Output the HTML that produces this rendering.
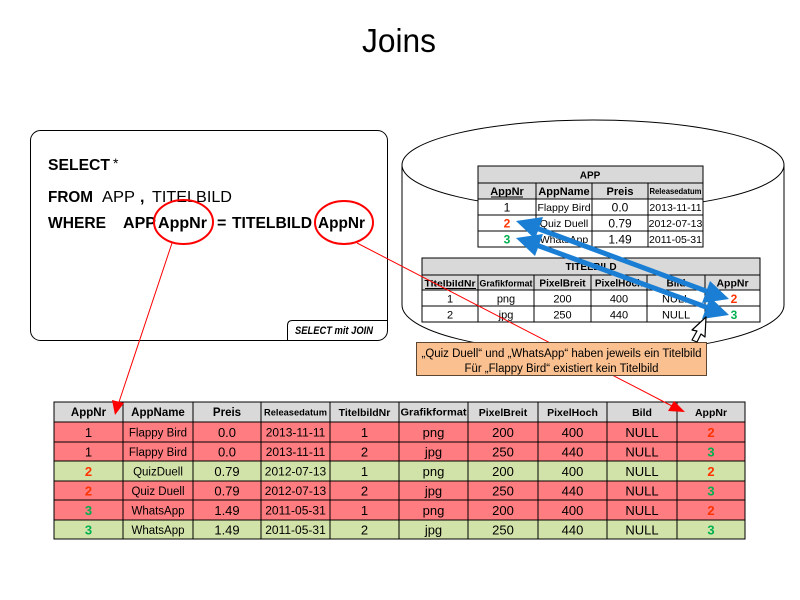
<!DOCTYPE html>
<html><head><meta charset="utf-8"><style>
html,body{margin:0;padding:0;background:#fff;}
svg{display:block;}
text{font-family:"Liberation Sans",Arial,sans-serif;}
</style></head><body>
<svg width="800" height="600" viewBox="0 0 800 600" xmlns="http://www.w3.org/2000/svg">
<rect width="800" height="600" fill="#fff"/>
<!-- Title -->
<text x="399" y="52" font-size="33" text-anchor="middle" textLength="74" lengthAdjust="spacingAndGlyphs" fill="#000">Joins</text>

<!-- SQL box -->
<rect x="30.5" y="130.5" width="357" height="210" rx="10" ry="10" fill="#fff" stroke="#000" stroke-width="1"/>
<path d="M287.5,340.5 V325.5 Q287.5,320.5 292.5,320.5 H387.5" fill="none" stroke="#000" stroke-width="1"/>
<text x="295" y="334" font-size="11" font-weight="bold" font-style="italic" textLength="78" lengthAdjust="spacingAndGlyphs">SELECT mit JOIN</text>

<g font-size="16" font-weight="bold" fill="#000">
<text x="48" y="170" textLength="62" lengthAdjust="spacingAndGlyphs">SELECT</text>
<text x="113" y="168" font-size="14" font-weight="normal">*</text>
<text x="48" y="202" textLength="45" lengthAdjust="spacingAndGlyphs">FROM</text>
<text x="102" y="202" font-weight="normal" textLength="33" lengthAdjust="spacingAndGlyphs">APP</text>
<text x="140" y="202">,</text>
<text x="152" y="202" font-weight="normal" textLength="80" lengthAdjust="spacingAndGlyphs">TITELBILD</text>
<text x="48" y="228" textLength="58" lengthAdjust="spacingAndGlyphs">WHERE</text>
<text x="123" y="228" textLength="33" lengthAdjust="spacingAndGlyphs">APP</text>
<text x="158" y="228" textLength="49" lengthAdjust="spacingAndGlyphs">AppNr</text>
<text x="217" y="228">=</text>
<text x="232" y="228" textLength="80" lengthAdjust="spacingAndGlyphs">TITELBILD</text>
<text x="318" y="228" textLength="47" lengthAdjust="spacingAndGlyphs">AppNr</text>
</g>
<ellipse cx="183.5" cy="222" rx="29.5" ry="22" fill="none" stroke="#ff0000" stroke-width="2"/>
<ellipse cx="344" cy="222.5" rx="29" ry="21.5" fill="none" stroke="#ff0000" stroke-width="2"/>

<!-- Cylinder -->
<path d="M402,165 V305 A191,48 0 0 0 784,305 V165" fill="#fff" stroke="#000" stroke-width="1"/>
<ellipse cx="593" cy="165" rx="191" ry="45" fill="#fff" stroke="#000" stroke-width="1"/>

<!-- APP table -->
<g stroke="#000" stroke-width="1">
<rect x="478" y="166" width="225" height="33" fill="#d9d9d9"/>
<rect x="478" y="199" width="225" height="48" fill="#fff"/>
<line x1="478" y1="183" x2="703" y2="183"/>
<line x1="478" y1="215" x2="703" y2="215"/>
<line x1="478" y1="231" x2="703" y2="231"/>
<line x1="536" y1="183" x2="536" y2="247"/>
<line x1="592" y1="183" x2="592" y2="247"/>
<line x1="648" y1="183" x2="648" y2="247"/>
</g>
<g text-anchor="middle" fill="#000">
<text x="590" y="178.5" font-size="10" font-weight="bold">APP</text>
<text x="507" y="195" font-size="11" font-weight="bold">AppNr</text>
<line x1="491" y1="197" x2="523" y2="197" stroke="#000" stroke-width="1"/>
<text x="564" y="195" font-size="11" font-weight="bold">AppName</text>
<text x="620" y="195" font-size="11" font-weight="bold">Preis</text>
<text x="675.5" y="194" font-size="8" font-weight="bold" textLength="52" lengthAdjust="spacingAndGlyphs">Releasedatum</text>
<text x="507" y="211.5" font-size="12">1</text>
<text x="564" y="211" font-size="10.5">Flappy Bird</text>
<text x="620" y="211.5" font-size="12">0.0</text>
<text x="675.5" y="211" font-size="10.5">2013-11-11</text>
<text x="507" y="227.5" font-size="12" font-weight="bold" fill="#ff3300">2</text>
<text x="564" y="227" font-size="10.5">Quiz Duell</text>
<text x="620" y="227.5" font-size="12">0.79</text>
<text x="675.5" y="227" font-size="10.5">2012-07-13</text>
<text x="507" y="243.5" font-size="12" font-weight="bold" fill="#00b050">3</text>
<text x="564" y="243" font-size="10.5">WhatsApp</text>
<text x="620" y="243.5" font-size="12">1.49</text>
<text x="675.5" y="243" font-size="10.5">2011-05-31</text>
</g>

<!-- TITELBILD table -->
<g stroke="#000" stroke-width="1">
<rect x="422" y="258" width="338" height="32" fill="#d9d9d9"/>
<rect x="422" y="290" width="338" height="32" fill="#fff"/>
<line x1="422" y1="275" x2="760" y2="275"/>
<line x1="422" y1="306" x2="760" y2="306"/>
<line x1="478" y1="275" x2="478" y2="322"/>
<line x1="534" y1="275" x2="534" y2="322"/>
<line x1="591" y1="275" x2="591" y2="322"/>
<line x1="647" y1="275" x2="647" y2="322"/>
<line x1="705" y1="275" x2="705" y2="322"/>
</g>
<g text-anchor="middle" fill="#000">
<text x="591" y="270" font-size="10" font-weight="bold">TITELBILD</text>
<text x="450" y="286.5" font-size="9.5" font-weight="bold" textLength="51" lengthAdjust="spacingAndGlyphs">TitelbildNr</text>
<line x1="425" y1="288.5" x2="476" y2="288.5" stroke="#000" stroke-width="1"/>
<text x="506" y="286.5" font-size="9" font-weight="bold" textLength="53" lengthAdjust="spacingAndGlyphs">Grafikformat</text>
<text x="562.5" y="286.5" font-size="10" font-weight="bold">PixelBreit</text>
<text x="619" y="286.5" font-size="10" font-weight="bold">PixelHoch</text>
<text x="676" y="286.5" font-size="10" font-weight="bold">Bild</text>
<text x="732.5" y="286.5" font-size="10.5" font-weight="bold">AppNr</text>
<text x="450" y="302.5" font-size="11">1</text>
<text x="506" y="302.5" font-size="11">png</text>
<text x="562.5" y="302.5" font-size="11">200</text>
<text x="619" y="302.5" font-size="11">400</text>
<text x="676" y="302.5" font-size="11">NULL</text>
<text x="734" y="303" font-size="12" font-weight="bold" fill="#ff3300">2</text>
<text x="450" y="318.5" font-size="11">2</text>
<text x="506" y="318.5" font-size="11">jpg</text>
<text x="562.5" y="318.5" font-size="11">250</text>
<text x="619" y="318.5" font-size="11">440</text>
<text x="676" y="318.5" font-size="11">NULL</text>
<text x="734" y="319" font-size="12" font-weight="bold" fill="#00b050">3</text>
</g>

<!-- Bottom result table -->
<g stroke="#000" stroke-width="1">
<rect x="54" y="402" width="691" height="20" fill="#d9d9d9"/>
<rect x="54" y="422" width="691" height="20" fill="#ff7c80"/>
<rect x="54" y="442" width="691" height="19" fill="#ff7c80"/>
<rect x="54" y="461" width="691" height="20" fill="#d2e3a9"/>
<rect x="54" y="481" width="691" height="19" fill="#ff7c80"/>
<rect x="54" y="500" width="691" height="20" fill="#ff7c80"/>
<rect x="54" y="520" width="691" height="19" fill="#d2e3a9"/>
<line x1="123" y1="402" x2="123" y2="539"/>
<line x1="193" y1="402" x2="193" y2="539"/>
<line x1="261" y1="402" x2="261" y2="539"/>
<line x1="330" y1="402" x2="330" y2="539"/>
<line x1="399" y1="402" x2="399" y2="539"/>
<line x1="468" y1="402" x2="468" y2="539"/>
<line x1="538" y1="402" x2="538" y2="539"/>
<line x1="607" y1="402" x2="607" y2="539"/>
<line x1="677" y1="402" x2="677" y2="539"/>
</g>
<g text-anchor="middle" fill="#000">
<g font-size="11.5" font-weight="bold">
<text x="88.5" y="416">AppNr</text>
<text x="158" y="416">AppName</text>
<text x="227" y="416">Preis</text>
<text x="295.5" y="415.5" font-size="9.5" textLength="63" lengthAdjust="spacingAndGlyphs">Releasedatum</text>
<text x="364.5" y="416" font-size="10.5">TitelbildNr</text>
<text x="433.5" y="415.5" font-size="10" textLength="66" lengthAdjust="spacingAndGlyphs">Grafikformat</text>
<text x="503" y="416" font-size="10.5">PixelBreit</text>
<text x="572.5" y="416" font-size="10.5">PixelHoch</text>
<text x="642" y="416" font-size="10.5">Bild</text>
<text x="711" y="416" font-size="10.5">AppNr</text>
</g>
<g font-size="13">
<text x="88.5" y="437">1</text><text x="158" y="436.5" font-size="11.5">Flappy Bird</text><text x="227" y="437">0.0</text><text x="295.5" y="436.5" font-size="12">2013-11-11</text><text x="364.5" y="437">1</text><text x="433.5" y="437">png</text><text x="503" y="437">200</text><text x="572.5" y="437">400</text><text x="642" y="437">NULL</text><text x="711" y="437" font-weight="bold" fill="#ff3300">2</text>
<text x="88.5" y="456.5">1</text><text x="158" y="456" font-size="11.5">Flappy Bird</text><text x="227" y="456.5">0.0</text><text x="295.5" y="456" font-size="12">2013-11-11</text><text x="364.5" y="456.5">2</text><text x="433.5" y="456.5">jpg</text><text x="503" y="456.5">250</text><text x="572.5" y="456.5">440</text><text x="642" y="456.5">NULL</text><text x="711" y="456.5" font-weight="bold" fill="#00b050">3</text>
<text x="88.5" y="476" font-weight="bold" fill="#ff3300">2</text><text x="158" y="475.5" font-size="11.5">QuizDuell</text><text x="227" y="476">0.79</text><text x="295.5" y="475.5" font-size="12">2012-07-13</text><text x="364.5" y="476">1</text><text x="433.5" y="476">png</text><text x="503" y="476">200</text><text x="572.5" y="476">400</text><text x="642" y="476">NULL</text><text x="711" y="476" font-weight="bold" fill="#ff3300">2</text>
<text x="88.5" y="495.5" font-weight="bold" fill="#ff3300">2</text><text x="158" y="495" font-size="11.5">Quiz Duell</text><text x="227" y="495.5">0.79</text><text x="295.5" y="495" font-size="12">2012-07-13</text><text x="364.5" y="495.5">2</text><text x="433.5" y="495.5">jpg</text><text x="503" y="495.5">250</text><text x="572.5" y="495.5">440</text><text x="642" y="495.5">NULL</text><text x="711" y="495.5" font-weight="bold" fill="#00b050">3</text>
<text x="88.5" y="515" font-weight="bold" fill="#00b050">3</text><text x="158" y="514.5" font-size="11.5">WhatsApp</text><text x="227" y="515">1.49</text><text x="295.5" y="514.5" font-size="12">2011-05-31</text><text x="364.5" y="515">1</text><text x="433.5" y="515">png</text><text x="503" y="515">200</text><text x="572.5" y="515">400</text><text x="642" y="515">NULL</text><text x="711" y="515" font-weight="bold" fill="#ff3300">2</text>
<text x="88.5" y="534.5" font-weight="bold" fill="#00b050">3</text><text x="158" y="534" font-size="11.5">WhatsApp</text><text x="227" y="534.5">1.49</text><text x="295.5" y="534" font-size="12">2011-05-31</text><text x="364.5" y="534.5">2</text><text x="433.5" y="534.5">jpg</text><text x="503" y="534.5">250</text><text x="572.5" y="534.5">440</text><text x="642" y="534.5">NULL</text><text x="711" y="534.5" font-weight="bold" fill="#00b050">3</text>
</g>
</g>

<!-- Red connector lines -->
<line x1="172" y1="243" x2="119" y2="402" stroke="#ff0000" stroke-width="1"/>
<polygon points="115,415 112,400 124,403" fill="#ff0000"/>
<line x1="357" y1="243" x2="672" y2="406" stroke="#ff0000" stroke-width="1"/>
<polygon points="685,412 668,411 674,401" fill="#ff0000"/>

<!-- Blue double arrows -->
<g fill="#1a7fd4" stroke="#1a7fd4">
<line x1="535" y1="227.5" x2="710" y2="292.5" stroke-width="5"/>
<polygon points="516,221 543,217 535,239" stroke="none"/>
<polygon points="729,299 702,303 710,281" stroke="none"/>
<line x1="535" y1="244.5" x2="710" y2="308.5" stroke-width="5"/>
<polygon points="516,238 543,234 535,256" stroke="none"/>
<polygon points="729,315 702,319 710,297" stroke="none"/>
</g>

<!-- Orange note box -->
<rect x="416.5" y="342.5" width="290" height="33" fill="#fac090" stroke="#5a4632" stroke-width="1"/>
<g text-anchor="middle" font-size="11.5" fill="#000">
<text x="561.5" y="357" textLength="280" lengthAdjust="spacingAndGlyphs">„Quiz Duell“ und „WhatsApp“ haben jeweils ein Titelbild</text>
<text x="561.5" y="372" textLength="194" lengthAdjust="spacingAndGlyphs">Für „Flappy Bird“ existiert kein Titelbild</text>
</g>

<!-- Cursor -->
<polygon points="706,317 692,330 697,331 692,340 697,342 701,334 705,337" fill="#fff" stroke="#000" stroke-width="1.2" stroke-linejoin="round"/>
</svg>
</body></html>
